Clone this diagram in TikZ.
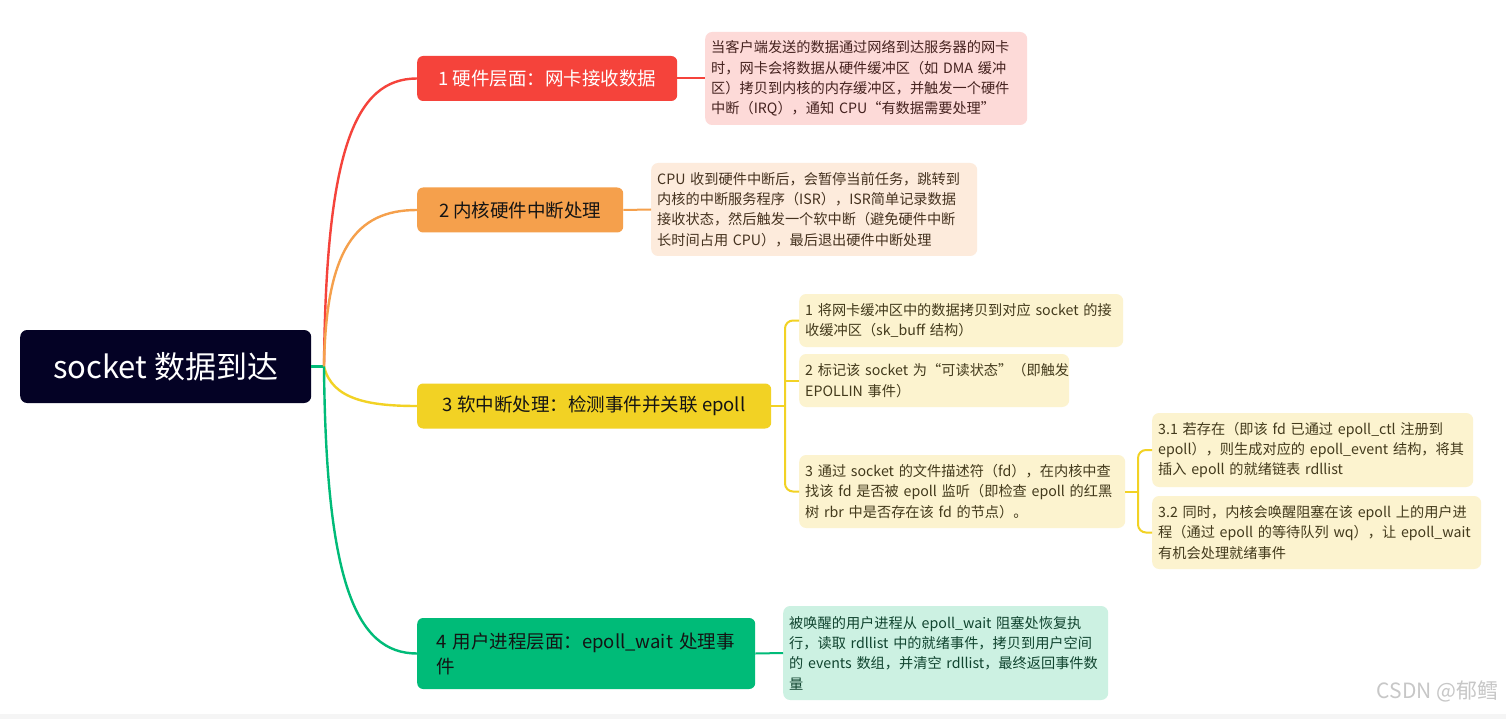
\documentclass[tikz,border=0pt]{standalone}
\usepackage{fontspec}
\setmainfont{Noto Sans CJK SC}
\definecolor{rootc}{HTML}{040225}
\definecolor{redc}{HTML}{F5433B}
\definecolor{orgc}{HTML}{F5A04C}
\definecolor{yelc}{HTML}{F2D224}
\definecolor{grnc}{HTML}{00BB78}
\definecolor{d1f}{HTML}{FDDAD8}
\definecolor{d2f}{HTML}{FDEBDC}
\definecolor{d3f}{HTML}{FCF3CF}
\definecolor{d4f}{HTML}{CCF1E2}
\definecolor{d1t}{HTML}{45221F}
\definecolor{d2t}{HTML}{45321F}
\definecolor{d3t}{HTML}{433A1C}
\definecolor{d4t}{HTML}{10442F}
\definecolor{btxt}{HTML}{141414}
\begin{document}
\begin{tikzpicture}[x=1pt,y=-1pt,
  rootbox/.style={rounded corners=7pt, fill=rootc, text=white, anchor=west,
    minimum width=291pt, minimum height=73pt, inner sep=0pt,
    font=\fontsize{31}{36}\selectfont},
  brbox/.style={rounded corners=6pt, anchor=west, minimum height=45pt, inner sep=0pt,
    font=\fontsize{18.5}{25}\selectfont, text=btxt},
  detbox/.style={rounded corners=7pt, anchor=west, align=left, inner xsep=6pt, inner ysep=3pt,
    font=\fontsize{14.2}{20.3}\selectfont},
  conn/.style={line width=2.4pt},
  thin/.style={line width=2pt}
]
\useasboundingbox (0,0) rectangle (1506,719);
\fill[white] (0,0) rectangle (1506,719);
\fill[black!4] (0,714) rectangle (1506,719);

% root
\node[rootbox] (root) at (20,366.5) {socket 数据到达};
\coordinate (j) at (324,366.5);

% branches
\node[brbox, fill=redc, text=white, minimum width=260pt] (b1) at (417,78.5) {1 硬件层面：网卡接收数据};
\node[brbox, fill=orgc, minimum width=206pt] (b2) at (417,210) {2 内核硬件中断处理};
\node[brbox, fill=yelc, minimum width=354pt] (b3) at (417,406) {3 软中断处理：检测事件并关联 epoll};
\node[brbox, fill=grnc, minimum height=71pt, text width=300pt, inner xsep=19pt, align=left] (b4) at (417,653.5)
  {4 用户进程层面：epoll\_wait~处理事\\件};

% details
\node[detbox, fill=d1f, text=d1t, text width=310pt, minimum height=93pt] (d1) at (705,78.5)
  {当客户端发送的数据通过网络到达服务器的网卡\\时，网卡会将数据从硬件缓冲区（如~DMA~缓冲\\区）拷贝到内核的内存缓冲区，并触发一个硬件\\中断（IRQ），通知~CPU“有数据需要处理”};
\node[detbox, fill=d2f, text=d2t, text width=314pt, minimum height=93pt] (d2) at (651,209.5)
  {CPU~收到硬件中断后，会暂停当前任务，跳转到\\内核的中断服务程序（ISR），ISR简单记录数据\\接收状态，然后触发一个软中断（避免硬件中断\\长时间占用~CPU），最后退出硬件中断处理};
\node[detbox, fill=d3f, text=d3t, text width=312pt, minimum height=53pt] (d31) at (799,320.5)
  {1~将网卡缓冲区中的数据拷贝到对应~socket~的接\\收缓冲区（sk\_buff~结构）};
\node[detbox, fill=d3f, text=d3t, text width=258pt, minimum height=53pt] (d32) at (799,380.5)
  {2~标记该~socket~为“可读状态”（即触发\\EPOLLIN~事件）};
\node[detbox, fill=d3f, text=d3t, text width=314pt, minimum height=73pt] (d33) at (799,491.5)
  {3~通过~socket~的文件描述符（fd），在内核中查\\找该~fd~是否被~epoll~监听（即检查~epoll~的红黑\\树~rbr~中是否存在该~fd~的节点）。};
\node[detbox, fill=d3f, text=d3t, text width=309pt, minimum height=74pt] (d331) at (1152,450)
  {3.1~若存在（即该~fd~已通过~epoll\_ctl~注册到\\epoll），则生成对应的~epoll\_event~结构，将其\\插入~epoll~的就绪链表~rdllist};
\node[detbox, fill=d3f, text=d3t, text width=317pt, minimum height=73pt] (d332) at (1152,532.5)
  {3.2~同时，内核会唤醒阻塞在该~epoll~上的用户进\\程（通过~epoll~的等待队列~wq），让~epoll\_wait\\有机会处理就绪事件};
\node[detbox, fill=d4f, text=d4t, text width=313pt, minimum height=94pt] (d4) at (783,653)
  {被唤醒的用户进程从~epoll\_wait~阻塞处恢复执\\行，读取~rdllist~中的就绪事件，拷贝到用户空间\\的~events~数组，并清空~rdllist，最终返回事件数\\量};

% root connectors
\draw[conn, grnc] (root.east) -- (j);
\draw[conn, redc] (j) .. controls (326,150) and (355,78.5) .. (b1.west);
\draw[conn, orgc] (j) .. controls (326,250) and (355,210) .. (b2.west);
\draw[conn, yelc] (j) .. controls (332,400) and (370,406) .. (b3.west);
\draw[conn, grnc] (j) .. controls (326,580) and (355,653.5) .. (b4.west);

% branch -> detail
\draw[thin, redc] (b1.east) -- (d1.west);
\draw[thin, orgc] (b2.east) -- (d2.west);
\draw[thin, grnc] (b4.east) -- (d4.west);

\coordinate (k3) at (785,406);
\draw[thin, yelc] (b3.east) -- (k3);
\draw[thin, yelc, rounded corners=8pt] (d31.west) -| (k3) |- (d33.west);
\draw[thin, yelc] (d32.west) -- (d32.west -| k3);

\coordinate (k33) at (1138,491.5);
\draw[thin, yelc] (d33.east) -- (k33);
\draw[thin, yelc, rounded corners=8pt] (d331.west) -| (k33) |- (d332.west);

% watermark
\node[text=black!22, font=\fontsize{21}{24}\selectfont, anchor=east] (wm) at (1502,691) {CSDN @郁鳕};
\end{tikzpicture}
\end{document}
